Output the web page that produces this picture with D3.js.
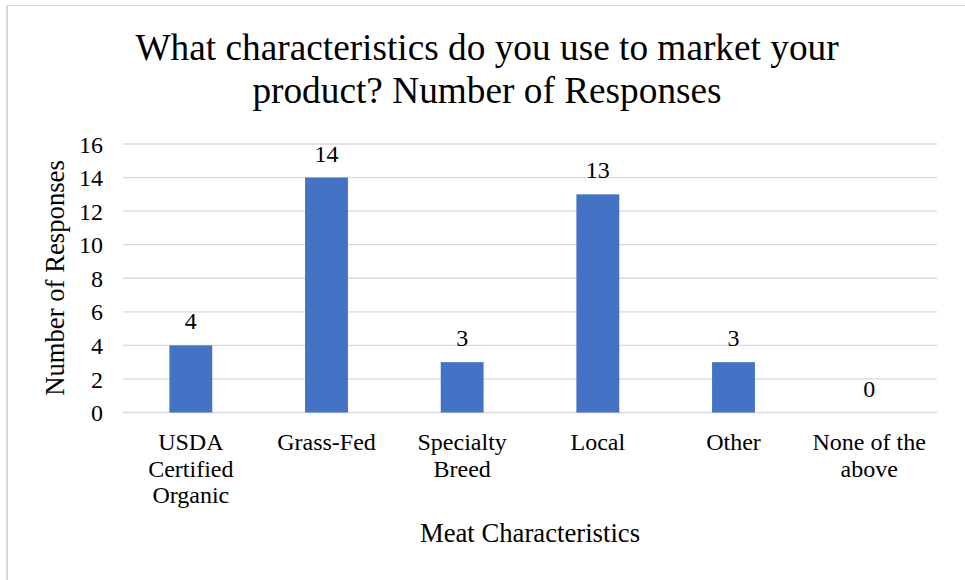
<!DOCTYPE html>
<html><head><meta charset="utf-8">
<script src="https://cdn.jsdelivr.net/npm/d3@7"></script>
<style>body{margin:0;background:#fff}svg{display:block}</style>
</head><body>
<svg id="c" width="965" height="580"></svg>
<script>
const categories = [["USDA","Certified","Organic"],["Grass-Fed"],["Specialty","Breed"],["Local"],["Other"],["None of the","above"]];
const values = [4,14,3,13,3,0];
const yTicks = [0,2,4,6,8,10,12,14,16];
const titleLines = ["What characteristics do you use to market your","product? Number of Responses"];
const xTitle = "Meat Characteristics";
const yTitle = "Number of Responses";

const svg = d3.select("#c");
const font = "'Liberation Serif','Times New Roman',serif";
const plotL = 123, plotR = 937, plotT = 144, plotB = 412.5;

svg.append("line").attr("x1",7).attr("x2",965).attr("y1",5.5).attr("y2",5.5).attr("stroke","#d9d9d9").attr("stroke-width",1);
svg.append("line").attr("x1",7).attr("x2",7).attr("y1",5).attr("y2",580).attr("stroke","#d9d9d9").attr("stroke-width",2);

const x = d3.scaleBand().domain(d3.range(categories.length)).range([plotL,plotR]).paddingInner(0.684).paddingOuter(0.342);
const y = d3.scaleLinear().domain([0,16]).range([plotB,plotT]);

const g = svg.append("g");
g.selectAll("line.grid").data(yTicks).join("line").attr("class","grid")
  .attr("x1",plotL).attr("x2",plotR).attr("y1",d=>y(d)).attr("y2",d=>y(d))
  .attr("stroke","#d9d9d9").attr("stroke-width",1.3);

g.selectAll("rect.bar").data(values).join("rect").attr("class","bar")
  .attr("x",(d,i)=>x(i)).attr("width",x.bandwidth())
  .attr("y",d=>y(d)).attr("height",d=>y(0)-y(d)).attr("fill","#4472C4");

g.selectAll("text.val").data(values).join("text").attr("class","val")
  .attr("x",(d,i)=>x(i)+x.bandwidth()/2).attr("y",d=>y(d)-16)
  .attr("text-anchor","middle").attr("font-family",font).attr("font-size",24).attr("fill","#000")
  .text(d=>d);

const yAxis = d3.axisLeft(y).tickValues(yTicks).tickSize(0).tickPadding(20);
const ya = svg.append("g").attr("transform",`translate(${plotL},0)`).call(yAxis);
ya.select(".domain").remove();
ya.selectAll("text").attr("font-family",font).attr("font-size",24).attr("fill","#000").attr("dy","0.34em");

const xl = svg.append("g");
categories.forEach((lines,i)=>{
  const cx = x(i)+x.bandwidth()/2;
  const t = xl.append("text").attr("x",cx).attr("y",450)
    .attr("text-anchor","middle").attr("font-family",font).attr("font-size",24).attr("fill","#000");
  lines.forEach((l,j)=>t.append("tspan").attr("x",cx).attr("dy",j?26.7:0).text(l));
});

svg.append("text").attr("x",(plotL+plotR)/2).attr("y",541.5).attr("text-anchor","middle")
  .attr("font-family",font).attr("font-size",26.7).attr("fill","#000").text(xTitle);

svg.append("text").attr("transform","translate(64,278) rotate(-90)").attr("text-anchor","middle")
  .attr("font-family",font).attr("font-size",26.7).attr("fill","#000").text(yTitle);

titleLines.forEach((l,i)=>svg.append("text").attr("x",487).attr("y",60+i*42.5).attr("text-anchor","middle")
  .attr("font-family",font).attr("font-size",37.3).attr("fill","#000").text(l));
</script>
</body></html>
